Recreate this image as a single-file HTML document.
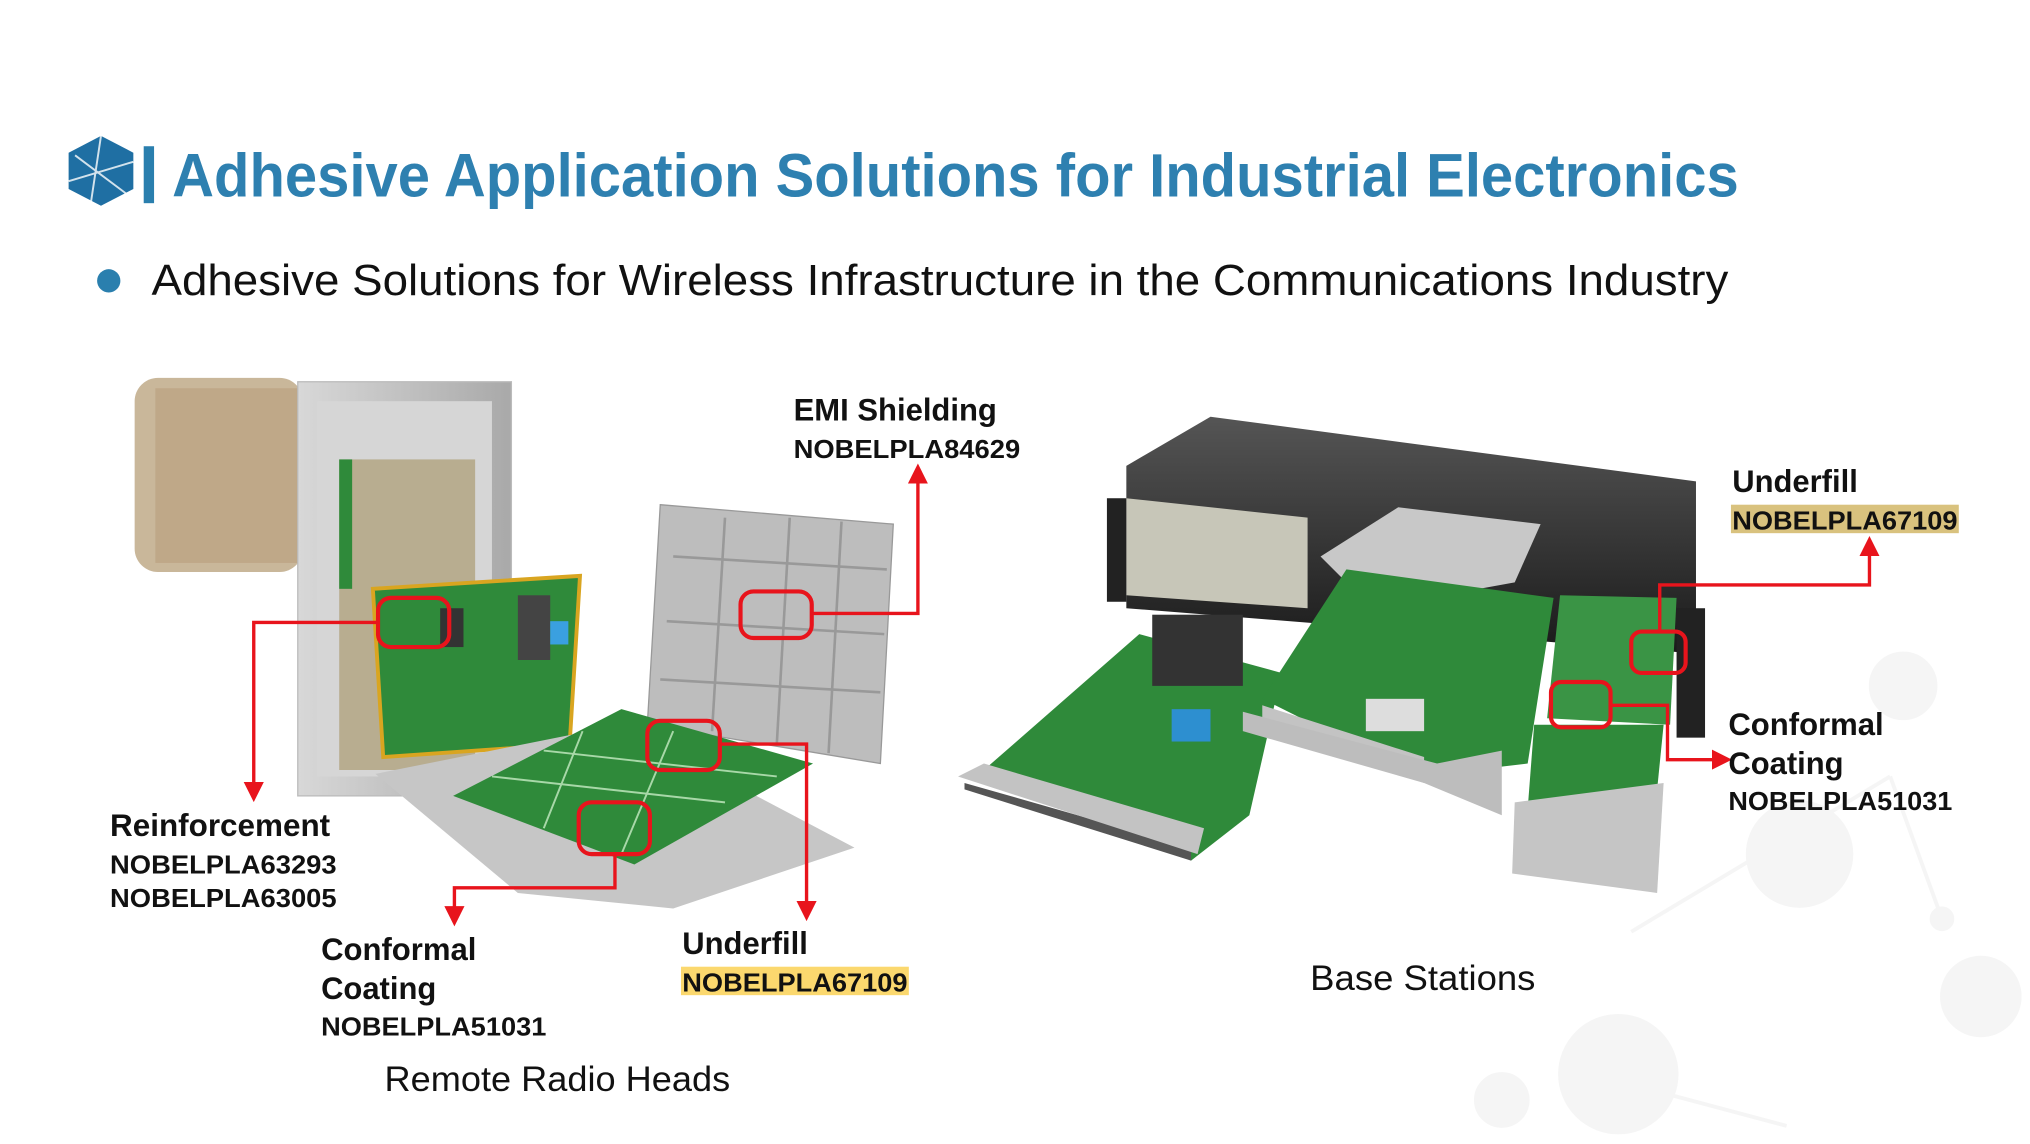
<!DOCTYPE html>
<html><head><meta charset="utf-8"><style>
html,body{margin:0;padding:0;background:#fff;width:2030px;height:1144px;overflow:hidden}
svg{display:block}
text{font-family:"Liberation Sans",sans-serif}
</style></head><body>
<svg width="2030" height="1144" viewBox="0 0 1568 884" preserveAspectRatio="none">
<defs>
<marker id="a" markerWidth="6" markerHeight="6" refX="3" refY="3" orient="auto"><path d="M0,0 L6,3 L0,6 z" fill="#e8141c"/></marker>
<linearGradient id="gr" x1="0" x2="1"><stop offset="0" stop-color="#d8d8d8"/><stop offset="1" stop-color="#a9a9a9"/></linearGradient>
<linearGradient id="bk" x1="0" y1="0" x2="0" y2="1"><stop offset="0" stop-color="#555"/><stop offset="1" stop-color="#1a1a1a"/></linearGradient>
</defs>
<!-- background molecules -->
<g fill="#f5f5f5" stroke="#f5f5f5" stroke-width="3">
<line x1="1260" y1="720" x2="1460" y2="600"/><line x1="1460" y1="600" x2="1500" y2="710"/><line x1="1230" y1="830" x2="1380" y2="870"/>
<circle cx="1390" cy="660" r="40"/><circle cx="1250" cy="830" r="45"/><circle cx="1530" cy="770" r="30"/><circle cx="1470" cy="530" r="25"/><circle cx="1160" cy="850" r="20"/><circle cx="1500" cy="710" r="8"/>
</g>
<!-- logo -->
<polygon points="78,105 103,118 103,146 78,159 53,146 53,118" fill="#1f6fa3"/>
<path d="M58,120 L98,150 M78,105 L70,158 M53,140 L103,125" stroke="#fff" stroke-width="1.5" opacity=".8"/>
<rect x="111" y="113" width="8" height="44" fill="#2a7fae"/>
<text x="133" y="152" font-size="47" font-weight="bold" fill="#2e80b0" textLength="1210" lengthAdjust="spacingAndGlyphs">Adhesive Application Solutions for Industrial Electronics</text>
<circle cx="84" cy="217" r="9" fill="#2a7fae"/>
<text x="117" y="228" font-size="33.5" fill="#111" textLength="1218" lengthAdjust="spacingAndGlyphs">Adhesive Solutions for Wireless Infrastructure in the Communications Industry</text>

<!-- RRH left image -->
<rect x="104" y="292" width="130" height="150" rx="18" fill="#c9b79a"/>
<rect x="120" y="300" width="110" height="135" fill="#bfa888"/>
<rect x="230" y="295" width="165" height="320" fill="url(#gr)" stroke="#bbb"/>
<rect x="245" y="310" width="135" height="290" fill="#d6d6d6"/>
<rect x="262" y="355" width="105" height="240" fill="#b8ad90"/>
<rect x="262" y="355" width="10" height="100" fill="#2f8a3a"/>
<polygon points="288,455 448,445 440,575 296,585" fill="#2f8a3a" stroke="#d9a520" stroke-width="3"/>
<rect x="340" y="470" width="18" height="30" fill="#333"/><rect x="400" y="460" width="25" height="50" fill="#444"/><rect x="425" y="480" width="14" height="18" fill="#3aa0e0"/>
<polygon points="510,390 690,405 680,590 500,560" fill="#bdbdbd" stroke="#999"/>
<g stroke="#999" stroke-width="2"><line x1="520" y1="430" x2="685" y2="440"/><line x1="515" y1="480" x2="683" y2="490"/><line x1="510" y1="525" x2="680" y2="535"/><line x1="560" y1="400" x2="550" y2="565"/><line x1="610" y1="400" x2="600" y2="575"/><line x1="650" y1="403" x2="640" y2="582"/></g>
<polygon points="290,598 480,560 660,655 520,702 400,690" fill="#c6c6c6"/>
<polygon points="350,615 480,548 628,590 490,668" fill="#2f8a3a"/>
<g stroke="#a8d8a8" stroke-width="1.5"><line x1="380" y1="600" x2="560" y2="620"/><line x1="420" y1="580" x2="600" y2="600"/><line x1="450" y1="565" x2="420" y2="640"/><line x1="520" y1="565" x2="480" y2="660"/></g>

<!-- Base station -->
<polygon points="870,360 935,322 1310,372 1310,505 870,470" fill="url(#bk)"/>
<polygon points="870,385 1010,400 1010,470 870,460" fill="#c7c6b8"/>
<rect x="855" y="385" width="15" height="80" fill="#222"/><rect x="1295" y="470" width="22" height="100" fill="#222"/>
<polygon points="1020,430 1080,392 1190,405 1170,450 1060,470" fill="#c8c8c8"/>
<polygon points="760,595 880,490 990,520 965,630 920,665" fill="#2f8a3a"/>
<rect x="890" y="475" width="70" height="55" fill="#333"/><rect x="905" y="548" width="30" height="25" fill="#2d8fd0"/>
<polygon points="745,605 920,655 920,665 745,610" fill="#555"/>
<polygon points="740,600 760,590 930,640 925,660" fill="#c3c3c3"/>
<polygon points="975,540 1040,440 1200,462 1180,590 1095,600" fill="#2f8a3a"/>
<polygon points="975,545 1100,585 1100,605 975,560" fill="#c3c3c3"/>
<polygon points="960,550 1110,590 1160,580 1160,630 1100,605 960,565" fill="#bdbdbd"/>
<rect x="1055" y="540" width="45" height="25" fill="#ddd"/>
<polygon points="1205,460 1295,462 1290,560 1195,555" fill="#3a9445"/>
<polygon points="1185,560 1285,560 1280,610 1180,625" fill="#2f8a3a"/>
<polygon points="1170,620 1285,605 1280,690 1168,675" fill="#c5c5c5"/>

<!-- red boxes and connectors -->
<g fill="none" stroke="#e8141c" stroke-width="3.2">
<rect x="292" y="462" width="55" height="38" rx="10"/>
<rect x="572" y="457" width="55" height="36" rx="10"/>
<rect x="500" y="557" width="56" height="38" rx="10"/>
<rect x="447" y="620" width="55" height="40" rx="10"/>
<rect x="1260" y="488" width="42" height="32" rx="8"/>
<rect x="1198" y="527" width="46" height="35" rx="8"/>
<g stroke-width="2.6">
<polyline points="292,481 196,481 196,612" marker-end="url(#a)"/>
<polyline points="627,474 709,474 709,366" marker-end="url(#a)"/>
<polyline points="556,575 623,575 623,704" marker-end="url(#a)"/>
<polyline points="475,660 475,686 351,686 351,708" marker-end="url(#a)"/>
<polyline points="1282,488 1282,452 1444,452 1444,422" marker-end="url(#a)"/>
<polyline points="1244,545 1288,545 1288,587 1330,587" marker-end="url(#a)"/>
</g></g>

<!-- labels -->
<g font-weight="bold" fill="#111">
<text x="613" y="325" font-size="24" textLength="157" lengthAdjust="spacingAndGlyphs">EMI Shielding</text>
<text x="613" y="354" font-size="20" textLength="175" lengthAdjust="spacingAndGlyphs">NOBELPLA84629</text>
<text x="85" y="646" font-size="24" textLength="170" lengthAdjust="spacingAndGlyphs">Reinforcement</text>
<text x="85" y="675" font-size="20" textLength="175" lengthAdjust="spacingAndGlyphs">NOBELPLA63293</text>
<text x="85" y="701" font-size="20" textLength="175" lengthAdjust="spacingAndGlyphs">NOBELPLA63005</text>
<text x="248" y="742" font-size="24" textLength="120" lengthAdjust="spacingAndGlyphs">Conformal</text>
<text x="248" y="772" font-size="24" textLength="89" lengthAdjust="spacingAndGlyphs">Coating</text>
<text x="248" y="800" font-size="20" textLength="174" lengthAdjust="spacingAndGlyphs">NOBELPLA51031</text>
<text x="527" y="737" font-size="24" textLength="97" lengthAdjust="spacingAndGlyphs">Underfill</text>
<rect x="526" y="747" width="176" height="22" fill="#fbd86e"/>
<text x="527" y="766" font-size="20" textLength="174" lengthAdjust="spacingAndGlyphs">NOBELPLA67109</text>
<text x="1338" y="380" font-size="24" textLength="97" lengthAdjust="spacingAndGlyphs">Underfill</text>
<rect x="1337" y="390" width="176" height="22" fill="#d9c27e"/>
<text x="1338" y="409" font-size="20" textLength="174" lengthAdjust="spacingAndGlyphs">NOBELPLA67109</text>
<text x="1335" y="568" font-size="24" textLength="120" lengthAdjust="spacingAndGlyphs">Conformal</text>
<text x="1335" y="598" font-size="24" textLength="89" lengthAdjust="spacingAndGlyphs">Coating</text>
<text x="1335" y="626" font-size="20" textLength="173" lengthAdjust="spacingAndGlyphs">NOBELPLA51031</text>
</g>
<text x="297" y="843" font-size="27" fill="#111" textLength="267" lengthAdjust="spacingAndGlyphs">Remote Radio Heads</text>
<text x="1012" y="765" font-size="27" fill="#111" textLength="174" lengthAdjust="spacingAndGlyphs">Base Stations</text>
</svg>
</body></html>
